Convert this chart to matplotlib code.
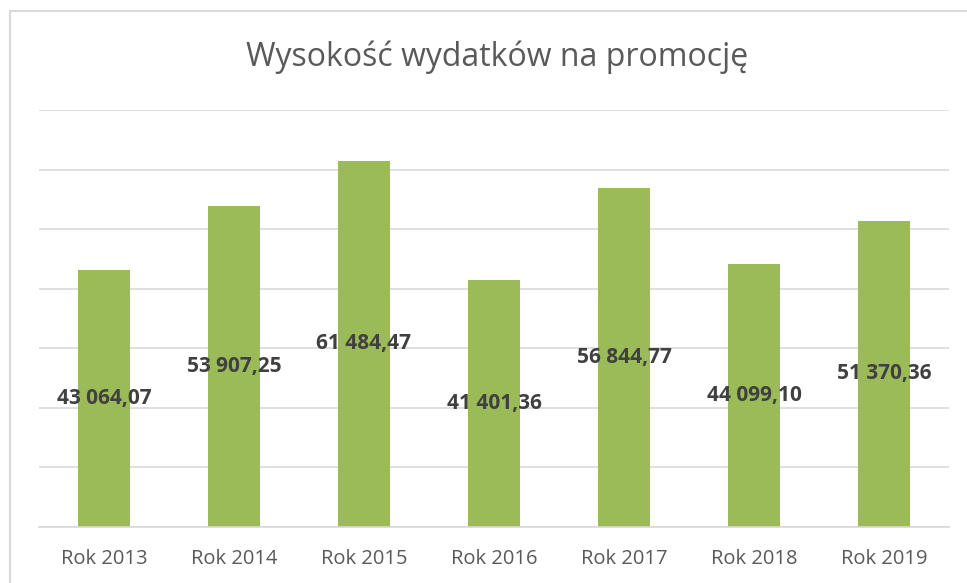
import matplotlib
matplotlib.use("Agg")
import matplotlib.pyplot as plt
from matplotlib.lines import Line2D

categories = ["Rok 2013", "Rok 2014", "Rok 2015", "Rok 2016", "Rok 2017", "Rok 2018", "Rok 2019"]
values = [43064.07, 53907.25, 61484.47, 41401.36, 56844.77, 44099.10, 51370.36]
title = "Wysokość wydatków na promocję"


def fmt_pl(v):
    s = f"{v:,.2f}"
    return s.replace(",", " ").replace(".", ",")


W, H = 967, 583
fig = plt.figure(figsize=(W / 100, H / 100), dpi=100)
plt.rcParams["font.family"] = ["Open Sans", "DejaVu Sans"]

# chart area border (left and top visible)
fig.add_artist(Line2D([10 / W, 10 / W], [0, 1 - 11 / H], color="#D9D9D9", lw=1.5))
fig.add_artist(Line2D([10 / W, 1], [1 - 11 / H, 1 - 11 / H], color="#D9D9D9", lw=1.5))

left, right = 39 / W, 949 / W
bottom, top = 1 - 527 / H, 1 - 110 / H
ax = fig.add_axes([left, bottom, right - left, top - bottom])

x = range(len(categories))
ax.bar(x, values, width=0.4, color="#9BBB59", zorder=2)
ax.set_xlim(-0.5, len(categories) - 0.5)
ax.set_ylim(0, 70000)
ax.set_yticks(range(0, 70001, 10000))
ax.yaxis.grid(True, color="#D9D9D9", lw=1.2, zorder=0)
ax.set_axisbelow(True)
ax.tick_params(axis="y", left=False, labelleft=False)
ax.tick_params(axis="x", bottom=False, labelsize=14.5, labelcolor="#595959", pad=12)
ax.set_xticks(list(x))
ax.set_xticklabels(categories)
for s in ["top", "right", "left"]:
    ax.spines[s].set_visible(False)
ax.spines["bottom"].set_color("#D9D9D9")
ax.spines["bottom"].set_linewidth(1.2)

for i, v in enumerate(values):
    ax.text(i, v / 2, fmt_pl(v), ha="center", va="center", fontsize=15,
            fontweight="bold", color="#404040", zorder=3)

fig.text(497 / W, 1 - 57 / H, title, ha="center", va="center", fontsize=23, color="#595959")

fig.savefig("out.png", dpi=100)
